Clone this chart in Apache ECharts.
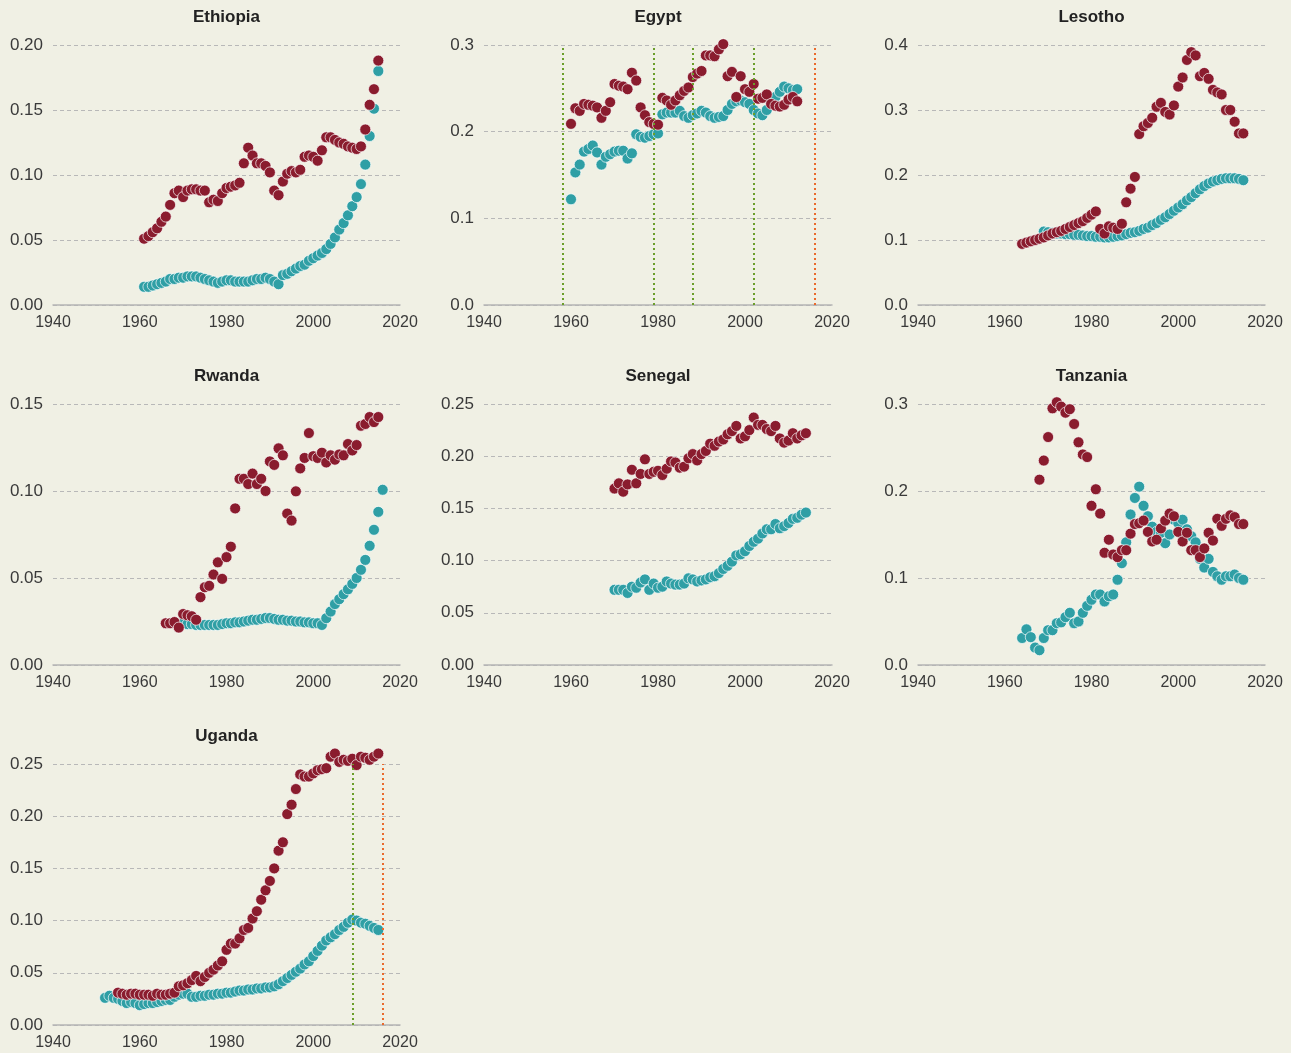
<!DOCTYPE html>
<html>
<head>
<meta charset="utf-8">
<script src="https://cdn.jsdelivr.net/npm/echarts@6/dist/echarts.min.js"></script>
<style>
  html, body { margin: 0; padding: 0; background: #f0f0e4; }
  #chart { width: 1291px; height: 1053px; }
</style>
</head>
<body>
<div id="chart"></div>
<script>
// Country panels, in reading order
const countries = ['Ethiopia', 'Egypt', 'Lesotho', 'Rwanda', 'Senegal', 'Tanzania', 'Uganda'];

// Shared x-axis ticks (years)
const xTicks = [1940, 1960, 1980, 2000, 2020];

// Y-axis ticks per panel
const yTicksEthiopia = [0, 0.05, 0.10, 0.15, 0.20];
const yTicksEgypt = [0, 0.1, 0.2, 0.3];
const yTicksLesotho = [0, 0.1, 0.2, 0.3, 0.4];
const yTicksRwanda = [0, 0.05, 0.10, 0.15];
const yTicksSenegal = [0, 0.05, 0.10, 0.15, 0.20, 0.25];
const yTicksTanzania = [0, 0.1, 0.2, 0.3];
const yTicksUganda = [0, 0.05, 0.10, 0.15, 0.20, 0.25];

// First year of each yearly series
const startEthiopiaRed = 1961, startEthiopiaTeal = 1961;
const startEgyptRed = 1960, startEgyptTeal = 1960;
const startLesothoRed = 1964, startLesothoTeal = 1969;
const startRwandaRed = 1966, startRwandaTeal = 1970;
const startSenegalRed = 1970, startSenegalTeal = 1970;
const startTanzaniaRed = 1968, startTanzaniaTeal = 1964;
const startUgandaRed = 1955, startUgandaTeal = 1952;

// Yearly values
const ethiopiaRed = [
  0.051, 0.053, 0.056, 0.059, 0.064, 0.068, 0.077, 0.086, 0.088, 0.083,
  0.088, 0.089, 0.089, 0.088, 0.088, 0.079, 0.081, 0.080, 0.086, 0.090,
  0.091, 0.092, 0.094, 0.109, 0.121, 0.115, 0.109, 0.109, 0.107, 0.102,
  0.088, 0.0845, 0.095, 0.101, 0.103, 0.102, 0.104, 0.114, 0.115, 0.114,
  0.111, 0.119, 0.129, 0.129, 0.127, 0.125, 0.124, 0.122, 0.121, 0.120,
  0.122, 0.135, 0.154, 0.166, 0.188
];
const ethiopiaTeal = [
  0.014, 0.014, 0.015, 0.016, 0.017, 0.018, 0.020, 0.020, 0.021, 0.021,
  0.022, 0.022, 0.022, 0.021, 0.020, 0.019, 0.018, 0.017, 0.018, 0.019,
  0.019, 0.018, 0.018, 0.018, 0.018, 0.019, 0.020, 0.020, 0.021, 0.020,
  0.018, 0.016, 0.023, 0.024, 0.026, 0.028, 0.030, 0.031, 0.034, 0.036,
  0.038, 0.040, 0.043, 0.047, 0.052, 0.058, 0.063, 0.069, 0.076, 0.083,
  0.093, 0.108, 0.130, 0.151, 0.180
];
const egyptRed = [
  0.209, 0.227, 0.224, 0.232, 0.231, 0.230, 0.228, 0.216, 0.224, 0.234,
  0.255, 0.253, 0.252, 0.249, 0.268, 0.259, 0.228, 0.219, 0.211, 0.209,
  0.208, 0.239, 0.236, 0.231, 0.236, 0.242, 0.247, 0.251, 0.263, 0.267,
  0.270, 0.288, 0.288, 0.287, 0.295, 0.301, 0.264, 0.269, 0.240, 0.264,
  0.249, 0.246, 0.255, 0.238, 0.239, 0.243, 0.232, 0.230, 0.229, 0.231,
  0.237, 0.240, 0.235
];
const egyptTeal = [
  0.122, 0.153, 0.162, 0.177, 0.180, 0.184, 0.176, 0.162, 0.171, 0.174,
  0.177, 0.178, 0.178, 0.169, 0.175, 0.197, 0.194, 0.193, 0.195, 0.197,
  0.198, 0.220, 0.222, 0.222, 0.222, 0.224, 0.218, 0.216, 0.219, 0.221,
  0.224, 0.222, 0.218, 0.216, 0.217, 0.218, 0.225, 0.232, 0.235, 0.236,
  0.234, 0.232, 0.225, 0.221, 0.219, 0.225, 0.234, 0.240, 0.246, 0.252,
  0.250, 0.248, 0.249
];
const lesothoRed = [
  0.094, 0.096, 0.098, 0.100, 0.102, 0.104, 0.107, 0.110, 0.112, 0.114,
  0.117, 0.120, 0.123, 0.126, 0.129, 0.134, 0.139, 0.144, 0.117, 0.110,
  0.121, 0.119, 0.117, 0.125, 0.158, 0.179, 0.197, 0.263, 0.275, 0.280,
  0.288, 0.305, 0.311, 0.297, 0.293, 0.307, 0.336, 0.350, 0.377, 0.389,
  0.384, 0.352, 0.357, 0.348, 0.331, 0.327, 0.324, 0.300, 0.300, 0.282,
  0.264, 0.264
];
const lesothoTeal = [
  0.113, 0.112, 0.111, 0.110, 0.110, 0.109, 0.109, 0.108, 0.108, 0.107,
  0.106, 0.106, 0.105, 0.105, 0.104, 0.104, 0.105, 0.106, 0.107, 0.109,
  0.111, 0.112, 0.114, 0.117, 0.119, 0.123, 0.126, 0.131, 0.135, 0.140,
  0.145, 0.150, 0.155, 0.161, 0.166, 0.172, 0.178, 0.183, 0.187, 0.190,
  0.192, 0.194, 0.195, 0.195, 0.195, 0.194, 0.192
];
const rwandaRed = [
  0.024, 0.024, 0.0247, 0.0215, 0.0293, 0.0286, 0.028, 0.026, 0.039, 0.0447,
  0.0455, 0.052, 0.059, 0.0495, 0.062, 0.068, 0.090, 0.107, 0.107, 0.104,
  0.110, 0.104, 0.107, 0.100, 0.117, 0.115, 0.1245, 0.1205, 0.087, 0.083,
  0.0998, 0.113, 0.119, 0.1333, 0.120, 0.119, 0.122, 0.1164, 0.1205, 0.118,
  0.121, 0.1205, 0.127, 0.1233, 0.1264, 0.1375, 0.1385, 0.1425, 0.1396, 0.1425
];
const rwandaTeal = [
  0.024, 0.0235, 0.0235, 0.023, 0.023, 0.023, 0.023, 0.023, 0.023, 0.0235,
  0.024, 0.024, 0.0245, 0.0245, 0.025, 0.0255, 0.026, 0.026, 0.0265, 0.027,
  0.027, 0.0265, 0.026, 0.026, 0.0255, 0.0255, 0.025, 0.025, 0.0245, 0.0245,
  0.024, 0.024, 0.023, 0.0269, 0.0307, 0.035, 0.0378, 0.0407, 0.0435, 0.0466,
  0.050, 0.0547, 0.0604, 0.0685, 0.0777, 0.088, 0.1007
];
const senegalRed = [
  0.169, 0.174, 0.166, 0.173, 0.187, 0.174, 0.183, 0.197, 0.183, 0.185,
  0.186, 0.182, 0.188, 0.195, 0.194, 0.189, 0.190, 0.198, 0.202, 0.196,
  0.202, 0.205, 0.212, 0.210, 0.214, 0.216, 0.221, 0.224, 0.229, 0.217,
  0.219, 0.225, 0.237, 0.230, 0.230, 0.226, 0.224, 0.229, 0.217, 0.213,
  0.215, 0.222, 0.217, 0.220, 0.222
];
const senegalTeal = [
  0.072, 0.072, 0.072, 0.069, 0.075, 0.074, 0.079, 0.082, 0.072, 0.078,
  0.074, 0.075, 0.080, 0.078, 0.077, 0.077, 0.078, 0.083, 0.082, 0.080,
  0.081, 0.082, 0.084, 0.085, 0.088, 0.092, 0.095, 0.099, 0.105, 0.106,
  0.109, 0.114, 0.118, 0.121, 0.126, 0.130, 0.130, 0.135, 0.131, 0.133,
  0.136, 0.140, 0.141, 0.144, 0.146
];
const tanzaniaRed = [
  0.213, 0.235, 0.262, 0.295, 0.302, 0.297, 0.290, 0.294, 0.277, 0.256,
  0.242, 0.239, 0.183, 0.202, 0.174, 0.129, 0.144, 0.127, 0.124, 0.132,
  0.132, 0.151, 0.162, 0.163, 0.166, 0.153, 0.142, 0.144, 0.157, 0.166,
  0.174, 0.171, 0.153, 0.142, 0.152, 0.132, 0.132, 0.124, 0.134, 0.152,
  0.143, 0.168, 0.160, 0.168, 0.172, 0.170, 0.162, 0.162
];
const tanzaniaTeal = [
  0.031, 0.041, 0.032, 0.020, 0.017, 0.031, 0.040, 0.040, 0.048, 0.049,
  0.055, 0.060, 0.048, 0.050, 0.060, 0.068, 0.075, 0.081, 0.081, 0.073,
  0.079, 0.081, 0.098, 0.117, 0.141, 0.173, 0.192, 0.205, 0.183, 0.171,
  0.159, 0.153, 0.152, 0.140, 0.150, 0.167, 0.163, 0.167, 0.156, 0.148,
  0.141, 0.122, 0.112, 0.122, 0.107, 0.102, 0.098, 0.102, 0.102, 0.104,
  0.100, 0.098
];
const ugandaRed = [
  0.031, 0.030, 0.029, 0.030, 0.030, 0.029, 0.029, 0.029, 0.028, 0.030,
  0.029, 0.029, 0.030, 0.031, 0.037, 0.038, 0.040, 0.043, 0.047, 0.042,
  0.046, 0.050, 0.053, 0.057, 0.061, 0.072, 0.078, 0.078, 0.083, 0.091,
  0.093, 0.102, 0.109, 0.120, 0.129, 0.138, 0.150, 0.167, 0.175, 0.202,
  0.211, 0.226, 0.240, 0.238, 0.238, 0.241, 0.244, 0.245, 0.246, 0.257,
  0.260, 0.252, 0.254, 0.253, 0.255, 0.249, 0.257, 0.256, 0.254, 0.257,
  0.260
];
const ugandaTeal = [
  0.026, 0.028, 0.026, 0.025, 0.023, 0.021, 0.022, 0.021, 0.019, 0.020,
  0.021, 0.021, 0.022, 0.023, 0.024, 0.024, 0.027, 0.029, 0.030, 0.030,
  0.027, 0.027, 0.028, 0.028, 0.029, 0.029, 0.030, 0.030, 0.031, 0.031,
  0.032, 0.033, 0.033, 0.034, 0.034, 0.035, 0.035, 0.036, 0.036, 0.037,
  0.039, 0.042, 0.045, 0.048, 0.051, 0.054, 0.058, 0.061, 0.066, 0.071,
  0.076, 0.081, 0.084, 0.087, 0.091, 0.094, 0.098, 0.101, 0.100, 0.098,
  0.097, 0.095, 0.093, 0.091
];

// Vertical reference years
const egyptGreenYears = [1958, 1979, 1988, 2002];
const egyptOrangeYears = [2016];
const ugandaGreenYears = [2009];
const ugandaOrangeYears = [2016];

// Palette and type
const BG = '#f0f0e4';
const RED = '#8a1c2e';
const TEAL = '#2f9fa5';
const GREEN = '#6a9e2a';
const ORANGE = '#ea6a2c';
const TEXT = '#3a3a3a';
const FONT = '"Liberation Sans", Arial, Helvetica, sans-serif';

// Panel frames (plot areas in px)
const colLeft = [53, 484, 918];
const colWidth = [347, 348, 347];
const rowTop = [45, 404, 764];
const rowHeight = [260, 261, 261];

const panels = [
  { yTicks: yTicksEthiopia, red: ethiopiaRed, redStart: startEthiopiaRed, teal: ethiopiaTeal, tealStart: startEthiopiaTeal },
  { yTicks: yTicksEgypt, red: egyptRed, redStart: startEgyptRed, teal: egyptTeal, tealStart: startEgyptTeal, green: egyptGreenYears, orange: egyptOrangeYears },
  { yTicks: yTicksLesotho, red: lesothoRed, redStart: startLesothoRed, teal: lesothoTeal, tealStart: startLesothoTeal },
  { yTicks: yTicksRwanda, red: rwandaRed, redStart: startRwandaRed, teal: rwandaTeal, tealStart: startRwandaTeal },
  { yTicks: yTicksSenegal, red: senegalRed, redStart: startSenegalRed, teal: senegalTeal, tealStart: startSenegalTeal },
  { yTicks: yTicksTanzania, red: tanzaniaRed, redStart: startTanzaniaRed, teal: tanzaniaTeal, tealStart: startTanzaniaTeal },
  { yTicks: yTicksUganda, red: ugandaRed, redStart: startUgandaRed, teal: ugandaTeal, tealStart: startUgandaTeal, green: ugandaGreenYears, orange: ugandaOrangeYears }
];

function toPairs(values, start) {
  return values.map((v, i) => [start + i, v]);
}
function decimalsOf(step) {
  const s = String(step);
  return s.indexOf('.') < 0 ? 0 : s.split('.')[1].length;
}

const grids = [], xAxes = [], yAxes = [], titles = [], series = [];

panels.forEach((p, i) => {
  const col = i % 3, row = Math.floor(i / 3);
  const left = colLeft[col], width = colWidth[col];
  const top = rowTop[row], height = rowHeight[row];
  grids.push({ left: left, top: top, width: width, height: height, containLabel: false });

  titles.push({
    text: countries[i],
    left: left + width / 2,
    top: top - 36,
    textAlign: 'center',
    padding: 0,
    textStyle: { fontFamily: FONT, fontSize: 17, fontWeight: 'bold', color: '#222' }
  });

  xAxes.push({
    type: 'value', gridIndex: i,
    min: xTicks[0], max: xTicks[xTicks.length - 1], interval: xTicks[1] - xTicks[0],
    axisLine: { show: true, lineStyle: { color: '#b4b4b4', width: 1.5 } },
    axisTick: { show: false },
    splitLine: { show: false },
    axisLabel: { margin: 10, fontFamily: FONT, fontSize: 16, color: TEXT, formatter: v => String(v) }
  });

  const step = p.yTicks[1] - p.yTicks[0];
  const dec = decimalsOf(p.yTicks[1]);
  yAxes.push({
    type: 'value', gridIndex: i,
    min: p.yTicks[0], max: p.yTicks[p.yTicks.length - 1], interval: step,
    axisLine: { show: false },
    axisTick: { show: false },
    splitLine: { show: true, lineStyle: { color: '#b8b8b8', type: [4, 3], width: 1 } },
    axisLabel: {
      margin: 10, fontFamily: FONT, fontSize: 17, color: TEXT,
      formatter: v => v.toFixed(dec)
    }
  });

  // dotted vertical reference lines, behind the dots
  if (p.green || p.orange) {
    const lines = [];
    (p.green || []).forEach(y => lines.push({ xAxis: y, lineStyle: { color: GREEN } }));
    (p.orange || []).forEach(y => lines.push({ xAxis: y, lineStyle: { color: ORANGE } }));
    series.push({
      type: 'scatter', xAxisIndex: i, yAxisIndex: i, data: [], z: 1,
      markLine: {
        silent: true, symbol: 'none', label: { show: false },
        lineStyle: { type: [2, 3], width: 2 },
        data: lines, animation: false
      }
    });
  }

  const dotStyle = c => ({ color: c, borderColor: 'rgba(255,255,255,0.85)', borderWidth: 0.8, opacity: 1 });
  series.push({
    type: 'scatter', xAxisIndex: i, yAxisIndex: i, z: 3, clip: false,
    symbolSize: 11, itemStyle: dotStyle(TEAL),
    data: toPairs(p.teal, p.tealStart)
  });
  series.push({
    type: 'scatter', xAxisIndex: i, yAxisIndex: i, z: 4, clip: false,
    symbolSize: 11, itemStyle: dotStyle(RED),
    data: toPairs(p.red, p.redStart)
  });
});

const chart = echarts.init(document.getElementById('chart'), null, { renderer: 'canvas' });
chart.setOption({
  backgroundColor: BG,
  animation: false,
  title: titles,
  grid: grids,
  xAxis: xAxes,
  yAxis: yAxes,
  series: series
});
</script>
</body>
</html>
